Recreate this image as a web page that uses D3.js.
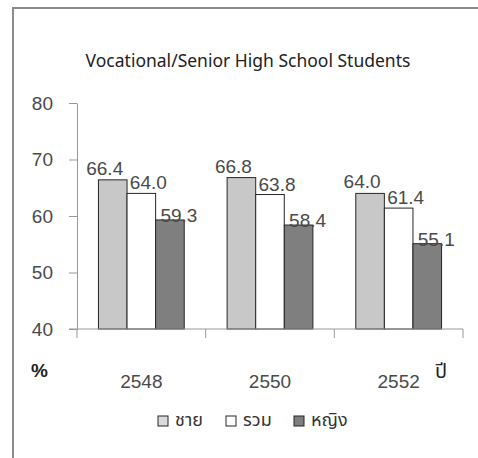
<!DOCTYPE html>
<html>
<head>
<meta charset="utf-8">
<script src="https://cdn.jsdelivr.net/npm/d3@7"></script>
<style>
  html, body { margin: 0; padding: 0; background: #fff; }
  svg { display: block; }
</style>
</head>
<body>
<svg id="chart" width="478" height="458"></svg>
<script>
// Percentage of vocational / senior high school students, by year (B.E.)
const years = ["2548", "2550", "2552"];
const seriesKeys = ["male", "total", "female"];
const seriesNames = ["ชาย", "รวม", "หญิง"];
const maleValues = [66.4, 66.8, 64.0];
const totalValues = [64.0, 63.8, 61.4];
const femaleValues = [59.3, 58.4, 55.1];
const yTicks = [40, 50, 60, 70, 80];

const valuesBySeries = { male: maleValues, total: totalValues, female: femaleValues };
const fills = { male: "#c8c8c8", total: "#ffffff", female: "#7f7f7f" };
// label nudges relative to the bar's centre / top
const labelShift = { male: [-8, -5], total: [7, -4], female: [9, 2] };

const svg = d3.select("#chart");
const numFont = "'Liberation Sans', Arial, sans-serif";
const thaiFont = "'Noto Sans Thai', 'Leelawadee UI', Tahoma, 'DejaVu Sans', sans-serif";

// outer frame (top and left edges)
svg.append("path")
  .attr("d", "M13,458 L13,8 L478,8")
  .attr("fill", "none")
  .attr("stroke", "#8a8a8a")
  .attr("stroke-width", 2);

svg.append("text")
  .attr("x", 248).attr("y", 67)
  .attr("text-anchor", "middle")
  .attr("font-family", "'Noto Sans', sans-serif")
  .attr("font-size", 17.5)
  .attr("fill", "#222")
  .text("Vocational/Senior High School Students");

const y = d3.scaleLinear().domain([40, 80]).range([329, 103]);
const x0 = d3.scaleBand().domain(years).range([77, 463]).padding(0);
const x1 = d3.scaleBand().domain(seriesKeys).range([0, x0.bandwidth()])
  .paddingInner(0).paddingOuter(0.75);

// y axis
const yAxis = svg.append("g")
  .attr("transform", "translate(77,0)")
  .call(d3.axisLeft(y).tickValues(yTicks).tickSize(8).tickSizeOuter(0).tickPadding(16));
yAxis.select(".domain").attr("stroke", "#999");
yAxis.selectAll(".tick line").attr("stroke", "#999");
yAxis.selectAll(".tick text")
  .attr("font-family", numFont).attr("font-size", 19).attr("fill", "#4a4a4a");

// bars
const groups = svg.append("g").selectAll("g")
  .data(years).join("g")
  .attr("transform", d => `translate(${x0(d)},0)`);

groups.selectAll("rect")
  .data((d, i) => seriesKeys.map(k => ({ key: k, value: valuesBySeries[k][i] })))
  .join("rect")
  .attr("x", d => x1(d.key))
  .attr("y", d => y(d.value))
  .attr("width", x1.bandwidth())
  .attr("height", d => y(40) - y(d.value))
  .attr("fill", d => fills[d.key])
  .attr("stroke", "#262626")
  .attr("stroke-width", 1);

groups.selectAll("text")
  .data((d, i) => seriesKeys.map(k => ({ key: k, value: valuesBySeries[k][i] })))
  .join("text")
  .attr("x", d => x1(d.key) + x1.bandwidth() / 2 + labelShift[d.key][0])
  .attr("y", d => y(d.value) + labelShift[d.key][1])
  .attr("text-anchor", "middle")
  .attr("font-family", numFont)
  .attr("font-size", 19)
  .attr("fill", "#4a4a4a")
  .text(d => d.value.toFixed(1));

// x axis line and category boundary ticks
const xAxis = svg.append("g");
xAxis.append("line")
  .attr("x1", 69).attr("x2", x0.range()[1])
  .attr("y1", y(40)).attr("y2", y(40))
  .attr("stroke", "#999");
xAxis.selectAll("line.tick")
  .data(years.map(d => x0(d)).concat([x0.range()[1]]))
  .join("line").attr("class", "tick")
  .attr("x1", d => d).attr("x2", d => d)
  .attr("y1", y(40)).attr("y2", y(40) + 9)
  .attr("stroke", "#999");
xAxis.selectAll("text")
  .data(years).join("text")
  .attr("x", d => x0(d) + x0.bandwidth() / 2)
  .attr("y", 388)
  .attr("text-anchor", "middle")
  .attr("font-family", numFont)
  .attr("font-size", 19)
  .attr("fill", "#4a4a4a")
  .text(d => d);

// axis titles
svg.append("text")
  .attr("x", 31).attr("y", 377)
  .attr("font-family", numFont).attr("font-size", 19).attr("font-weight", "bold")
  .attr("fill", "#222")
  .text("%");
svg.append("text")
  .attr("x", 435).attr("y", 378)
  .attr("font-family", thaiFont).attr("font-size", 20)
  .attr("fill", "#222")
  .text("ปี");

// legend
const legendX = [158, 226, 294];
const legend = svg.append("g").selectAll("g")
  .data(seriesKeys).join("g")
  .attr("transform", (d, i) => `translate(${legendX[i]},416)`);
legend.append("rect")
  .attr("width", 10).attr("height", 10)
  .attr("fill", d => d === "male" ? "#dadada" : fills[d])
  .attr("stroke", "#262626");
legend.append("text")
  .attr("x", 17).attr("y", 10)
  .attr("font-family", thaiFont).attr("font-size", 18)
  .attr("fill", "#333")
  .text((d, i) => seriesNames[i]);
</script>
</body>
</html>
